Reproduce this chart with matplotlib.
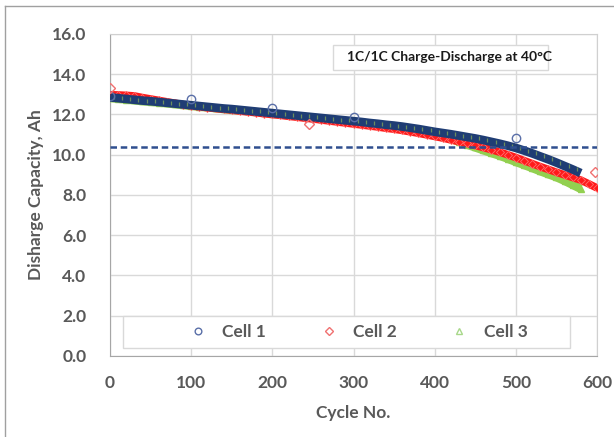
import numpy as np
import matplotlib.pyplot as plt
from matplotlib.patches import Rectangle
from matplotlib.lines import Line2D

plt.rcParams['font.family'] = ['Lato', 'DejaVu Sans']

# Discharge capacity (Ah), sampled every 10 cycles
cycles_1 = np.arange(0, 590, 10)
cap_1 = [12.85, 12.81, 12.77, 12.73, 12.69, 12.66, 12.62, 12.58, 12.54, 12.50,
         12.46, 12.42, 12.38, 12.34, 12.30, 12.27, 12.23, 12.19, 12.15, 12.11,
         12.07, 12.03, 11.99, 11.95, 11.91, 11.87, 11.83, 11.79, 11.75, 11.71,
         11.67, 11.63, 11.58, 11.54, 11.49, 11.45, 11.40, 11.34, 11.28, 11.21,
         11.14, 11.08, 11.02, 10.95, 10.88, 10.81, 10.73, 10.64, 10.55, 10.45,
         10.34, 10.21, 10.07, 9.92, 9.77, 9.61, 9.44, 9.27, 9.09]

cycles_2 = np.arange(0, 610, 10)
cap_2 = [12.98, 12.97, 12.95, 12.92, 12.84, 12.77, 12.70, 12.63, 12.56, 12.49,
         12.43, 12.38, 12.34, 12.30, 12.26, 12.22, 12.17, 12.13, 12.09, 12.04,
         12.00, 11.96, 11.91, 11.87, 11.82, 11.78, 11.73, 11.68, 11.63, 11.58,
         11.53, 11.48, 11.43, 11.38, 11.32, 11.27, 11.21, 11.14, 11.07, 10.99,
         10.91, 10.83, 10.74, 10.65, 10.56, 10.46, 10.36, 10.25, 10.13, 10.00,
         9.86, 9.71, 9.56, 9.41, 9.27, 9.13, 9.00, 8.87, 8.74, 8.55, 8.35]

cycles_3 = np.arange(0, 590, 10)
cap_3 = [12.82, 12.78, 12.74, 12.70, 12.66, 12.63, 12.59, 12.55, 12.51, 12.47,
         12.43, 12.39, 12.35, 12.31, 12.27, 12.24, 12.20, 12.16, 12.12, 12.08,
         12.04, 12.00, 11.96, 11.92, 11.88, 11.84, 11.80, 11.76, 11.72, 11.68,
         11.64, 11.60, 11.55, 11.51, 11.46, 11.42, 11.36, 11.30, 11.23, 11.12,
         11.00, 10.90, 10.78, 10.65, 10.50, 10.36, 10.22, 10.08, 9.95, 9.80,
         9.64, 9.49, 9.34, 9.18, 9.03, 8.88, 8.70, 8.50, 8.30]

# checkup points that sit off the main trend
chk_cyc_1 = [0, 100, 200, 300, 500]
chk_cap_1 = [12.9, 12.77, 12.32, 11.9, 10.82]
chk_cyc_2 = [0, 245, 598]
chk_cap_2 = [13.3, 11.55, 9.12]

eol_capacity = 10.4
labels = ['Cell 1', 'Cell 2', 'Cell 3']

navy = '#1f3d74'
red = '#ff1a1a'
green = '#92d050'
txt = '#595959'

fig = plt.figure(figsize=(6.14, 4.37), dpi=100)
ax = fig.add_axes([0.1792, 0.1854, 0.7931, 0.7368])

# Cell 3 / Cell 2 as solid bands, Cell 1 as a dense band on top
ax.plot(cycles_3, cap_3, '-', color=green, lw=6, solid_capstyle='butt', zorder=3)
ax.plot(cycles_3, cap_3, '^', color=green, ms=5, zorder=3)
ax.plot(cycles_2, cap_2, '-', color=red, lw=5.5, solid_capstyle='butt', zorder=4)
ax.plot(cycles_2, cap_2, 'D', color=red, ms=4.5, mfc=red, mec='#ff7070', mew=0.6, zorder=4)
ax.plot(cycles_1, cap_1, '-', color=navy, lw=6.2, solid_capstyle='butt', zorder=5)
ax.plot(cycles_1[:-1] + 5, cap_1[:-1], '|', color='#7fa35a', ms=3.4, mew=0.9,
        alpha=0.8, zorder=5)

h1, = ax.plot(chk_cyc_1, chk_cap_1, 'o', ms=6, mfc='none', mec='#5a6fa8', mew=1.0, zorder=6)
h2, = ax.plot(chk_cyc_2, chk_cap_2, 'D', ms=5.5, mfc='none', mec='#f07070', mew=1.0, zorder=6)
h3 = Line2D([], [], ls='none', marker='^', ms=5, mfc='none', mec='#a8d88a', mew=1.0)

ax.axhline(eol_capacity, color='#2f4f8f', lw=1.8, dashes=(2.6, 1.5), zorder=7)

ax.set_xlim(0, 600)
ax.set_ylim(0, 16)
ax.set_xticks(np.arange(0, 700, 100))
ax.set_yticks(np.arange(0, 18, 2))
ax.set_yticklabels([f'{v:.1f}' for v in np.arange(0, 18, 2)])
ax.grid(True, color='#d9d9d9', lw=1)
ax.set_axisbelow(True)
ax.tick_params(length=0, labelsize=12.5, colors=txt)
ax.tick_params(axis='x', pad=14)
ax.tick_params(axis='y', pad=17)
for lab in ax.get_xticklabels() + ax.get_yticklabels():
    lab.set_fontweight('bold')
for s in ax.spines.values():
    s.set_color('#d0d0d0')
ax.spines['left'].set_color('#a6a6a6')
ax.spines['bottom'].set_color('#a6a6a6')

ax.set_xlabel('Cycle No.', fontsize=12.5, fontweight='bold', color=txt, labelpad=10)
ax.set_ylabel('Disharge Capacity, Ah', fontsize=12.5, fontweight='bold', color=txt, labelpad=6)

# test condition note
ax.add_patch(Rectangle((275, 14.2), 265, 1.25, facecolor='white',
                       edgecolor='#d9d9d9', lw=1, zorder=8))
ax.text(292, 14.85, '1C/1C Charge-Discharge at 40\u00b0C', fontsize=10,
        fontweight='bold', color='#1a1a1a', va='center', ha='left', zorder=9)

# legend box along the bottom
ax.add_patch(Rectangle((0.027, 0.025), 0.918, 0.099, transform=ax.transAxes,
                       facecolor='white', edgecolor='#d9d9d9', lw=1, zorder=8))
leg = ax.legend([h1, h2, h3], labels, loc='center', bbox_to_anchor=(0.51, 0.075),
                ncol=3, frameon=False, fontsize=12.5, columnspacing=3.1,
                handlelength=1.0, handletextpad=0.9, markerscale=0.8)
leg.set_zorder(9)
for t in leg.get_texts():
    t.set_color(txt)
    t.set_fontweight('bold')

# outer frame
fig.add_artist(Line2D([5 / 614, 5 / 614], [0, 1 - 6 / 437], color='#a0a0a0', lw=1,
                      transform=fig.transFigure))
fig.add_artist(Line2D([5 / 614, 1], [1 - 6 / 437, 1 - 6 / 437], color='#a0a0a0', lw=1,
                      transform=fig.transFigure))

fig.savefig('out.png', dpi=100)
